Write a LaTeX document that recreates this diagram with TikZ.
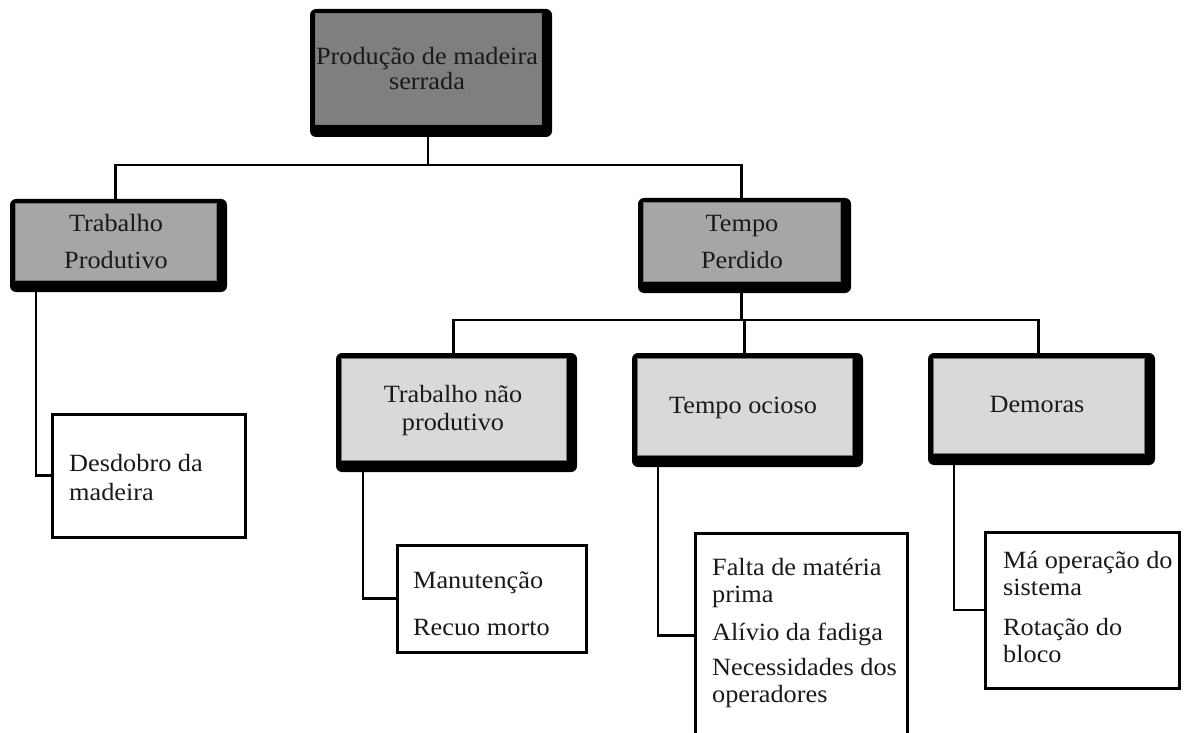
\documentclass[tikz,border=0pt]{standalone}
\usepackage{fontspec}
\setmainfont[FakeStretch=1.06]{Liberation Serif}
\usetikzlibrary{backgrounds}
\definecolor{topgray}{HTML}{7F7F7F}
\definecolor{midgray}{HTML}{A6A6A6}
\definecolor{lowgray}{HTML}{D9D9D9}
\definecolor{txt}{HTML}{1A1A1A}
\tikzset{
 shadowbox/.style={fill=black, rounded corners=6pt, inner sep=0pt, outer sep=0pt, anchor=north west},
 graybox/.style={draw=black!55, line width=1pt, inner sep=0pt, outer sep=0pt, anchor=north west},
 leafbox/.style={draw=black, line width=3pt, fill=white, inner sep=0pt, outer sep=0pt, anchor=north west},
 conn/.style={draw=black, line width=2.6pt},
 ctext/.style={anchor=base, inner sep=0pt, text=txt, font=\fontsize{24.8}{27}\selectfont},
 ltext/.style={anchor=base west, inner sep=0pt, text=txt, font=\fontsize{24.8}{27}\selectfont},
}
\newcommand\gbox[6]{%
 \node[shadowbox, minimum width={(#4-#2)*1pt}, minimum height={(#5-#3)*1pt}] (#1) at (#2,#3) {};
 \node[graybox, fill=#6, minimum width={(#4-#2-16)*1pt}, minimum height={(#5-#3-17)*1pt}] (#1in) at (#2+5,#3+5) {};
}
\begin{document}
\begin{tikzpicture}[x=1pt,y=-1pt]
\clip (0,0) rectangle (1187,733);
% gray boxes
\gbox{top}{310}{9}{552}{137}{topgray}
\gbox{tp}{10}{199}{227}{292}{midgray}
\gbox{tpe}{638}{198}{851}{293}{midgray}
\gbox{tnp}{336}{353}{577}{472}{lowgray}
\gbox{to}{632}{353}{863}{467}{lowgray}
\gbox{dem}{928}{353}{1155}{465}{lowgray}
% leaf boxes
\node[leafbox, minimum width=193pt, minimum height=123pt] (l1) at (52,414) {};
\node[leafbox, minimum width=189pt, minimum height=107pt] (l2) at (397,545) {};
\node[leafbox, minimum width=212pt, minimum height=205pt] (l3) at (695,533) {};
\node[leafbox, minimum width=194pt, minimum height=156pt] (l4) at (985,532) {};
% connectors
\begin{scope}[on background layer]
\fill[white] (0,0) rectangle (1187,733);
\coordinate (j1) at (428,165);
\coordinate (j2) at (741.5,320);
\draw[conn] (topin.south) -- (j1);
\draw[conn] (tpin.north) |- (j1) -| (tpein.north);
\draw[conn] (tpein.south) -- (j2);
\draw[conn] (tnpin.north) |- (j2) -| (demin.north);
\draw[conn] (toin.north) -- (toin.north |- j2);
\draw[conn] ([xshift=21pt]tpin.south west) |- (l1.west);
\draw[conn] ([xshift=22pt]tnpin.south west) |- (l2.west);
\draw[conn] ([xshift=21pt]toin.south west) |- (l3.west);
\draw[conn] ([xshift=21pt]demin.south west) |- (l4.west);
\end{scope}
% texts
\node[ctext] (t1a) at (427,65) {Produção de madeira};
\node[ctext] (t1b) at (427,90) {serrada};
\node[ctext] (t2a) at (116,232) {Trabalho};
\node[ctext] (t2b) at (116,269) {Produtivo};
\node[ctext] (t3a) at (742,231) {Tempo};
\node[ctext] (t3b) at (742,268) {Perdido};
\node[ctext] (t4a) at (453,402) {Trabalho não};
\node[ctext] (t4b) at (453,430) {produtivo};
\node[ctext] (t5) at (743,413) {Tempo ocioso};
\node[ctext] (t6) at (1037,412) {Demoras};
\node[ltext] (d1) at (69,471) {Desdobro da};
\node[ltext] (d2) at (69,500) {madeira};
\node[ltext] (m1) at (413,588) {Manutenção};
\node[ltext] (m2) at (413,635) {Recuo morto};
\node[ltext] (f1) at (712,575) {Falta de matéria};
\node[ltext] (f2) at (712,602) {prima};
\node[ltext] (f3) at (712,640) {Alívio da fadiga};
\node[ltext] (f4) at (712,675) {Necessidades dos};
\node[ltext] (f5) at (712,702) {operadores};
\node[ltext] (o1) at (1003,568) {Má operação do};
\node[ltext] (o2) at (1003,595) {sistema};
\node[ltext] (o3) at (1003,635) {Rotação do};
\node[ltext] (o4) at (1003,662) {bloco};
\end{tikzpicture}
\end{document}
